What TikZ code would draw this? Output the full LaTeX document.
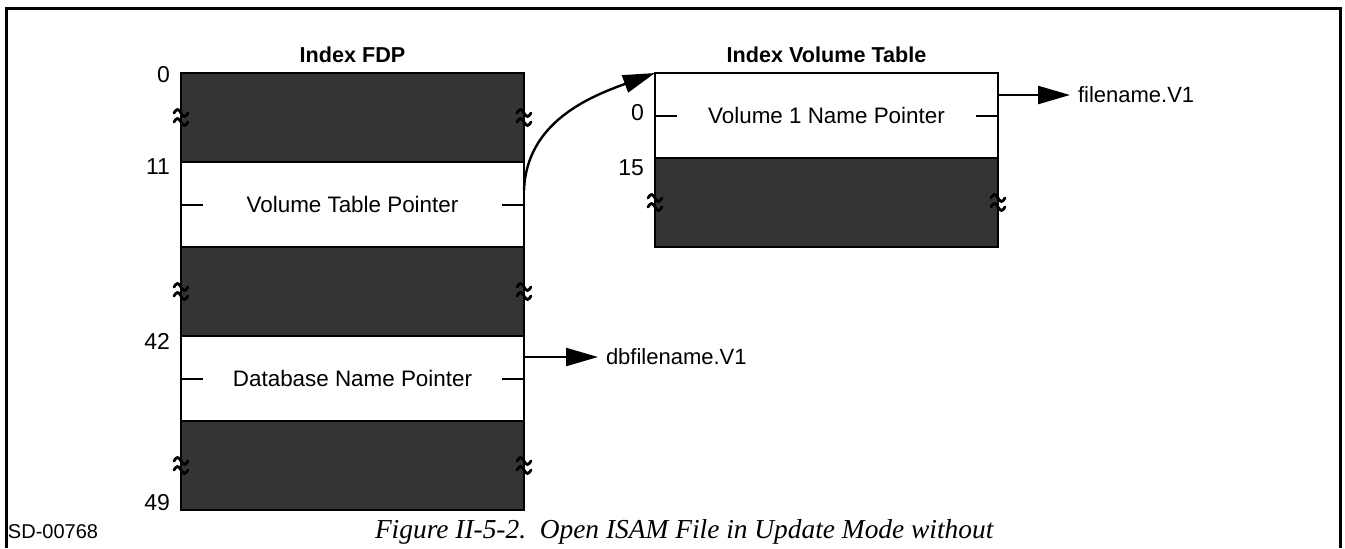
\documentclass[tikz,border=0pt]{standalone}
\usepackage{fontspec}
\setmainfont{Liberation Sans}
\newfontfamily\capfont{Liberation Serif}
\usetikzlibrary{arrows.meta, positioning, calc}
\usepackage{xcolor}

\definecolor{rowgray}{RGB}{52,52,52}

\tikzset{
    brk/.pic = {
        \foreach \dy in {-4.5,4.5}
            \draw[line width=1.4pt, line cap=round]
                (-7,\dy) sin (-3.5,\dy-3.5) cos (0,\dy) sin (3.5,\dy+3.5) cos (7,\dy);
    }
}

\begin{document}
\begin{tikzpicture}[
    x=0.5pt, y=-0.5pt,
    every node/.style = {inner sep=0pt, outer sep=0pt, font=\fontsize{11.2}{13}\selectfont},
    darkrow/.style  = {draw, line width=1pt, fill=rowgray, minimum height=44.5pt},
    textrow/.style  = {draw, line width=1pt, fill=white,   minimum height=42.5pt},
    boxw/.style     = {minimum width=171.5pt},
    title/.style    = {font=\bfseries\fontsize{10.8}{13}\selectfont},
    offset/.style   = {anchor=east, font=\fontsize{11.5}{13}\selectfont},
    target/.style   = {anchor=west, font=\fontsize{11}{13}\selectfont},
    tick/.style     = {line width=1pt},
    arr/.style      = {-{Triangle[length=16pt,width=9pt]}, line width=1.2pt},
]
\useasboundingbox (0,0) rectangle (1345,548);

%% Frame
\draw[line width=1.5pt] (6,548) -- (6,8) -- (1340,8) -- (1340,548);

%% Index FDP
\node[darkrow, boxw, anchor=north west] (fdp0) at (181,73) {};
\node[textrow, boxw, below=0pt of fdp0] (fdp1) {Volume Table Pointer};
\node[darkrow, boxw, below=0pt of fdp1] (fdp2) {};
\node[textrow, boxw, below=0pt of fdp2] (fdp3) {Database Name Pointer};
\node[darkrow, boxw, below=0pt of fdp3] (fdp4) {};
\node[title, above=5pt of fdp0] (fdptitle) {Index FDP};

%% Index Volume Table
\node[textrow, boxw, anchor=north west] (ivt0) at (655,73) {Volume 1 Name Pointer};
\node[darkrow, boxw, below=0pt of ivt0] (ivt1) {};
\node[title, above=5pt of ivt0] (ivttitle) {Index Volume Table};

%% Offsets
\node[offset] (o0)  at (170,75)  {0};
\node[offset] (o11) at (170,167) {11};
\node[offset] (o42) at (170,341) {42};
\node[offset] (o49) at (170,503) {49};
\node[offset] (v0)  at (644,113) {0};
\node[offset] (v15) at (644,168) {15};

%% Ticks and breaks
\foreach \r in {fdp1, fdp3, ivt0} {
    \draw[tick] (\r.west) -- ++(22,0);
    \draw[tick] (\r.east) -- ++(-22,0);
}
\foreach \r in {fdp0, fdp2, fdp4, ivt1} {
    \pic at (\r.west) {brk};
    \pic at (\r.east) {brk};
}

%% Pointers
\node[target] (fname)  at (1078,95)  {filename.V1};
\node[target] (dbname) at (606,357) {dbfilename.V1};
\draw[arr] ($(fdp1.east)+(0,-14)$) to[out=88, in=200] (ivt0.north west);
\draw[arr, shorten >=4pt] (ivt0.east |- fname.west) -- (fname.west);
\draw[arr, shorten >=4pt] (fdp3.east |- dbname.west) -- (dbname.west);

%% Footer
\node[anchor=west, font=\fontsize{10}{12}\selectfont] (sd) at (8,532) {SD-00768};
\node[anchor=west, font=\capfont\itshape\fontsize{13.7}{16}\selectfont] (caption) at (375,532)
    {Figure II-5-2.\ \ Open ISAM File in Update Mode without};

\end{tikzpicture}
\end{document}
